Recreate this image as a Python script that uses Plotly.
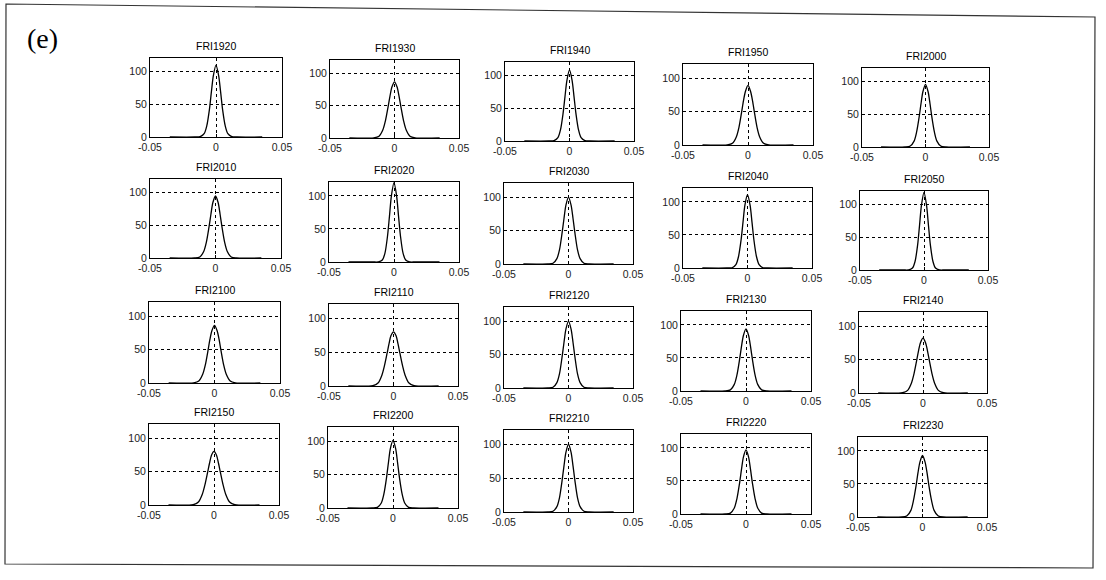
import plotly.graph_objects as go

# ---- data ----
titles = ["FRI1920", "FRI1930", "FRI1940", "FRI1950", "FRI2000",
          "FRI2010", "FRI2020", "FRI2030", "FRI2040", "FRI2050",
          "FRI2100", "FRI2110", "FRI2120", "FRI2130", "FRI2140",
          "FRI2150", "FRI2200", "FRI2210", "FRI2220", "FRI2230"]

x_grid = [-0.035, -0.016, -0.012, -0.009, -0.007, -0.005, -0.0035, -0.002, 0,
          0.002, 0.0035, 0.005, 0.007, 0.009, 0.012, 0.016, 0.035]

fri1920 = [0, 0, 0.5, 5, 17, 42, 69, 94, 110, 94, 69, 42, 17, 5, 0.5, 0, 0]
fri1930 = [0, 0.3, 2.8, 12.7, 27, 48, 65, 79, 87, 79, 65, 48, 27, 12.7, 2.8, 0.3, 0]
fri1940 = [0, 0, 0.5, 5, 17, 42, 68, 93, 109, 93, 68, 42, 17, 5, 0.5, 0, 0]
fri1950 = [0, 0.2, 2.5, 12, 26, 48, 66, 80, 89, 80, 66, 48, 26, 12, 2.5, 0.2, 0]
fri2000 = [0, 0, 1.5, 9, 23, 46, 67, 85, 96, 85, 67, 46, 23, 9, 1.5, 0, 0]
fri2010 = [0, 0, 1.6, 10, 24, 47, 67, 85, 95, 85, 67, 47, 24, 10, 1.6, 0, 0]
fri2020 = [0, 0, 0.2, 3, 13, 39, 69, 100, 120, 100, 69, 39, 13, 3, 0.2, 0, 0]
fri2030 = [0, 0, 1.1, 8, 21, 46, 68, 88, 100, 88, 68, 46, 21, 8, 1.1, 0, 0]
fri2040 = [0, 0, 0.4, 5, 17, 42, 69, 95, 111, 95, 69, 42, 17, 5, 0.4, 0, 0]
fri2050 = [0, 0, 0.2, 3, 13, 38, 68, 99, 119, 99, 68, 38, 13, 3, 0.2, 0, 0]
fri2100 = [0, 0.3, 3, 13, 27, 48, 65, 78, 86, 78, 65, 48, 27, 13, 3, 0.3, 0]
fri2110 = [0, 0.5, 4.4, 16, 30, 48, 62, 74, 80, 74, 62, 48, 30, 16, 4.4, 0.5, 0]
fri2120 = [0, 0, 1.1, 8, 21, 46, 68, 88, 100, 88, 68, 46, 21, 8, 1.1, 0, 0]
fri2130 = [0, 0, 1.7, 10, 24, 47, 67, 84, 94, 84, 67, 47, 24, 10, 1.7, 0, 0]
fri2140 = [0, 0.4, 3.9, 15, 29, 48, 63, 75, 82, 75, 63, 48, 29, 15, 3.9, 0.4, 0]
fri2150 = [0, 0.5, 4.4, 16, 30, 48, 62, 74, 80, 74, 62, 48, 30, 16, 4.4, 0.5, 0]
fri2200 = [0, 0, 1, 7.5, 21, 45, 68, 89, 101, 89, 68, 45, 21, 7.5, 1, 0, 0]
fri2210 = [0, 0, 1.1, 8, 21, 46, 68, 88, 100, 88, 68, 46, 21, 8, 1.1, 0, 0]
fri2220 = [0, 0, 1.4, 9, 23, 46, 67, 86, 97, 86, 67, 46, 23, 9, 1.4, 0, 0]
fri2230 = [0, 0, 1.9, 10, 25, 47, 67, 83, 93, 83, 67, 47, 25, 10, 1.9, 0, 0]

series = [fri1920, fri1930, fri1940, fri1950, fri2000,
          fri2010, fri2020, fri2030, fri2040, fri2050,
          fri2100, fri2110, fri2120, fri2130, fri2140,
          fri2150, fri2200, fri2210, fri2220, fri2230]

x_ticks = [-0.05, 0, 0.05]
x_tick_labels = ["-0.05", "0", "0.05"]
y_ticks = [0, 50, 100]
y_tick_labels = ["0", "50", "100"]

# ---- layout (pixel boxes of each panel: x0, x1, y0(top), y1(bottom)) ----
W, H = 1106, 580
boxes = [
    (150, 282, 58, 137), (330, 459, 60, 138), (505, 634, 62, 141), (683, 813, 64, 145), (862, 989, 68, 147),
    (150, 281, 179, 258), (329, 459, 182, 262), (504, 633, 183, 264), (683, 812, 188, 268), (860, 988, 191, 270),
    (149, 280, 302, 383), (329, 458, 304, 386), (504, 633, 307, 388), (681, 811, 311, 391), (859, 987, 312, 393),
    (149, 279, 424, 505), (328, 458, 427, 508), (504, 633, 430, 512), (681, 811, 434, 514), (858, 987, 437, 517),
]

FONT = "Liberation Sans, Arial, sans-serif"
fig = go.Figure()
layout = dict(width=W, height=H, margin=dict(l=0, r=0, t=0, b=0, pad=0), autosize=False,
              template="none",
              paper_bgcolor="white", plot_bgcolor="white", showlegend=False,
              font=dict(family=FONT, color="black", size=10))
annotations = []
for i, (t, ys, b) in enumerate(zip(titles, series, boxes), start=1):
    x0, x1, y0, y1 = b
    sx = "" if i == 1 else str(i)
    fig.add_trace(go.Scatter(x=x_grid, y=ys, mode="lines",
                             line=dict(color="black", width=1.3, shape="spline", smoothing=0.8),
                             xaxis="x" + sx, yaxis="y" + sx, hoverinfo="skip"))
    common = dict(showline=True, mirror=True, linecolor="black", linewidth=1,
                  showgrid=True, gridcolor="black", griddash="dot", gridwidth=1,
                  zeroline=False, ticks="inside", ticklen=3, tickcolor="black",
                  automargin=False,
                  tickfont=dict(size=10.5, color="#222", family=FONT))
    layout["xaxis" + sx] = dict(domain=[x0 / W, x1 / W], anchor="y" + sx, range=[-0.05, 0.05],
                                tickmode="array", tickvals=x_ticks, ticktext=x_tick_labels, **common)
    layout["yaxis" + sx] = dict(domain=[1 - y1 / H, 1 - y0 / H], anchor="x" + sx, range=[0, 121],
                                tickmode="array", tickvals=y_ticks, ticktext=y_tick_labels, **common)
    annotations.append(dict(text=t, x=(x0 + x1) / 2 / W, y=1 - (y0 - 4) / H, xref="paper", yref="paper",
                            xanchor="center", yanchor="bottom", showarrow=False,
                            font=dict(size=10.5, color="black", family=FONT)))

annotations.append(dict(text="(e)", x=25 / W, y=1 - 39 / H, xref="paper", yref="paper",
                        xanchor="left", yanchor="middle", showarrow=False,
                        font=dict(size=28, color="black", family="Liberation Serif, Times New Roman, serif")))
layout["annotations"] = annotations

def p(px, py):
    return f"{px / W:.5f},{1 - py / H:.5f}"

frame = "M " + p(6, 4) + " L " + p(1095, 17) + " L " + p(1093, 568) + " L " + p(5, 564) + " Z"
layout["shapes"] = [dict(type="path", path=frame, xref="paper", yref="paper",
                         line=dict(color="#333", width=1.2), fillcolor="rgba(0,0,0,0)")]
fig.update_layout(**layout)
fig.write_html("out.html", config={"displayModeBar": False},
               post_script="document.body.style.margin='0';document.body.style.overflow='hidden';")
